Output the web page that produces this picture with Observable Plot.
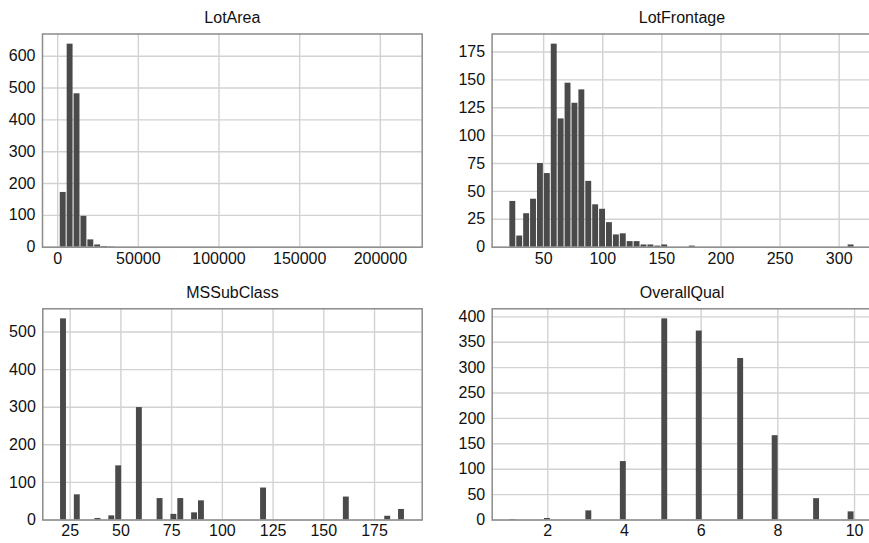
<!DOCTYPE html>
<html>
<head>
<meta charset="utf-8">
<script src="https://cdn.jsdelivr.net/npm/d3@7"></script>
<script src="https://cdn.jsdelivr.net/npm/@observablehq/plot@0.6"></script>
<style>
  html, body { margin: 0; padding: 0; background: #fff; overflow: hidden; }
  #fig { position: relative; width: 869px; height: 543px; overflow: hidden; background: #fff; }
  .panel { position: absolute; }
  .panel svg { max-width: none !important; display: block; }
</style>
</head>
<body>
<div id="fig"></div>
<script>
// Histograms of four housing features, 50 equal-width bins each.
const BINS = 50;

// LotArea: bin counts over [min, max]
const lotAreaRange = [1300, 215245];
const lotAreaCounts = [
  172, 638, 482, 97, 23, 7, 2, 1, 0, 0,
  0, 0, 0, 0, 0, 0, 0, 0, 0, 0,
  0, 0, 0, 0, 0, 0, 0, 0, 0, 0,
  0, 0, 0, 0, 0, 0, 0, 0, 0, 0,
  0, 0, 0, 0, 0, 0, 0, 0, 0, 0
];
const lotAreaXTicks = [0, 50000, 100000, 150000, 200000];
const lotAreaYTicks = [0, 100, 200, 300, 400, 500, 600];

// LotFrontage: bin counts over [min, max]
const lotFrontageRange = [21, 313];
const lotFrontageCounts = [
  41, 10, 30, 43, 75, 66, 182, 115, 147, 129,
  141, 59, 38, 34, 22, 11, 12, 5, 5, 2,
  2, 1, 2, 0, 0, 0, 1, 0, 0, 0,
  0, 0, 0, 0, 0, 0, 0, 0, 0, 0,
  0, 0, 0, 0, 0, 0, 0, 0, 0, 2
];
const lotFrontageXTicks = [50, 100, 150, 200, 250, 300];
const lotFrontageYTicks = [0, 25, 50, 75, 100, 125, 150, 175];

// MSSubClass: dwelling class codes and how many houses carry each
const msSubClassCodes  = [20, 30, 40, 45, 50, 60, 70, 75, 80, 85, 90, 120, 160, 180, 190];
const msSubClassCounts = [535, 67, 4, 11, 144, 299, 57, 15, 57, 19, 51, 85, 61, 10, 28];
const msSubClassXTicks = [25, 50, 75, 100, 125, 150, 175];
const msSubClassYTicks = [0, 100, 200, 300, 400, 500];

// OverallQual: quality rating levels and their counts
const overallQualLevels = [1, 2, 3, 4, 5, 6, 7, 8, 9, 10];
const overallQualCounts = [1, 3, 18, 115, 396, 372, 318, 166, 42, 16];
const overallQualXTicks = [2, 4, 6, 8, 10];
const overallQualYTicks = [0, 50, 100, 150, 200, 250, 300, 350, 400];

// Turn 50 counts into bin rectangles [x1, x2) of height n.
function binsFromCounts(range, counts) {
  const w = (range[1] - range[0]) / counts.length;
  return counts.map((n, i) => ({x1: range[0] + i * w, x2: range[0] + (i + 1) * w, n}));
}

// Tally discrete values into 50 bins spanning [min, max], last bin closed.
function binsFromValues(values, counts) {
  const lo = d3.min(values), hi = d3.max(values);
  const w = (hi - lo) / BINS;
  const tally = new Array(BINS).fill(0);
  values.forEach((v, j) => {
    const k = Math.min(BINS - 1, Math.floor((v - lo) / w + 1e-9));
    tally[k] += counts[j];
  });
  return binsFromCounts([lo, hi], tally);
}

const FONT = "'Liberation Sans', Arial, Helvetica, sans-serif";

function histogram({title, bins, range, xTicks, yTicks, box}) {
  const pad = (range[1] - range[0]) * 0.05;
  const ymax = d3.max(bins, d => d.n) * 1.05;
  const chart = Plot.plot({
    width: box.width,
    height: box.height,
    marginLeft: box.ml,
    marginRight: box.mr,
    marginTop: box.mt,
    marginBottom: box.mb,
    x: {domain: [range[0] - pad, range[1] + pad]},
    y: {domain: [0, ymax]},
    style: {fontFamily: FONT, fontSize: "16px", color: "#111", background: "#fff", overflow: "visible", maxWidth: "none"},
    marks: [
      Plot.gridX(xTicks, {stroke: "#d2d2d2", strokeOpacity: 1, strokeWidth: 1.4}),
      Plot.gridY(yTicks, {stroke: "#d2d2d2", strokeOpacity: 1, strokeWidth: 1.4}),
      Plot.rectY(bins.filter(d => d.n > 0), {x1: "x1", x2: "x2", y: "n", fill: "#4a4a4a", insetLeft: 0.5, insetRight: 0.5}),
      Plot.frame({stroke: "#8c8c8c", strokeWidth: 1.5}),
      Plot.axisX(xTicks, {tickSize: 0, tickPadding: 5, tickFormat: d => String(d), label: null, fill: "#111"}),
      Plot.axisY(yTicks, {tickSize: 0, tickPadding: 7, tickFormat: d => String(d), label: null, fill: "#111"}),
      Plot.text([title], {text: d => d, frameAnchor: "top", lineAnchor: "middle", dy: -16, fontSize: 16, fill: "#111"})
    ]
  });
  const wrap = document.createElement("div");
  wrap.className = "panel";
  wrap.style.left = box.left + "px";
  wrap.style.top = box.top + "px";
  wrap.style.width = box.width + "px";
  wrap.style.height = box.height + "px";
  wrap.appendChild(chart);
  document.getElementById("fig").appendChild(wrap);
}

histogram({
  title: "LotArea",
  bins: binsFromCounts(lotAreaRange, lotAreaCounts),
  range: lotAreaRange, xTicks: lotAreaXTicks, yTicks: lotAreaYTicks,
  box: {left: 0, top: 0, width: 435, height: 270, ml: 42, mr: 13.3, mt: 33.5, mb: 23.3}
});

histogram({
  title: "LotFrontage",
  bins: binsFromCounts(lotFrontageRange, lotFrontageCounts),
  range: lotFrontageRange, xTicks: lotFrontageXTicks, yTicks: lotFrontageYTicks,
  box: {left: 435, top: 0, width: 440, height: 270, ml: 56.6, mr: 3.7, mt: 33.5, mb: 23.3}
});

histogram({
  title: "MSSubClass",
  bins: binsFromValues(msSubClassCodes, msSubClassCounts),
  range: d3.extent(msSubClassCodes), xTicks: msSubClassXTicks, yTicks: msSubClassYTicks,
  box: {left: 0, top: 270, width: 435, height: 273, ml: 42.3, mr: 13.3, mt: 38.3, mb: 23.5}
});

histogram({
  title: "OverallQual",
  bins: binsFromValues(overallQualLevels, overallQualCounts),
  range: d3.extent(overallQualLevels), xTicks: overallQualXTicks, yTicks: overallQualYTicks,
  box: {left: 435, top: 270, width: 440, height: 273, ml: 56.7, mr: 3.7, mt: 38.3, mb: 23.5}
});
</script>
</body>
</html>
